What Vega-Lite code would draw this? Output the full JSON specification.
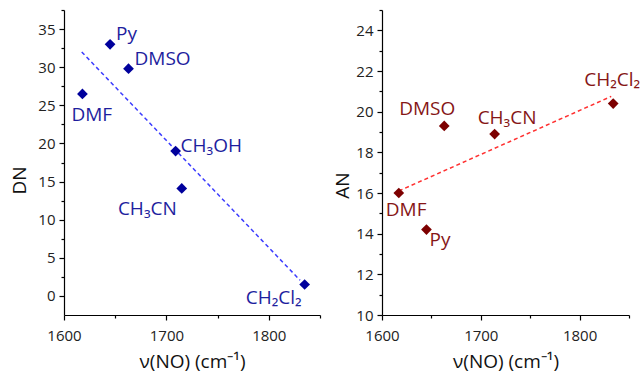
{
  "$schema": "https://vega.github.io/schema/vega-lite/v6.json",
  "background": "white",
  "padding": {"left": 10, "top": 3, "right": 0, "bottom": 0},
  "spacing": 12,
  "config": {
    "view": {"stroke": null},
    "font": "Open Sans",
    "axis": {
      "grid": false,
      "domainColor": "#000000",
      "domainWidth": 1.2,
      "tickColor": "#000000",
      "tickWidth": 1.2,
      "labelFont": "Open Sans",
      "labelFontSize": 15,
      "labelColor": "#222222",
      "labelFlush": false,
      "labelOverlap": false,
      "titleFont": "Open Sans",
      "titleFontSize": 19,
      "titleFontWeight": "normal",
      "titleColor": "#111111"
    }
  },
  "datasets": {
    "dn": [
      {"solvent": "Py", "nu": 1645, "DN": 33.0},
      {"solvent": "DMSO", "nu": 1663, "DN": 29.8},
      {"solvent": "DMF", "nu": 1618, "DN": 26.5},
      {"solvent": "CH₃OH", "nu": 1709, "DN": 19.0},
      {"solvent": "CH₃CN", "nu": 1715, "DN": 14.1},
      {"solvent": "CH₂Cl₂", "nu": 1835, "DN": 1.5}
    ],
    "dnfit": [
      {"nu": 1617.3, "DN": 32.0},
      {"nu": 1830.5, "DN": 2.06}
    ],
    "an": [
      {"solvent": "DMF", "nu": 1617, "AN": 16.0},
      {"solvent": "Py", "nu": 1645, "AN": 14.2},
      {"solvent": "DMSO", "nu": 1663, "AN": 19.3},
      {"solvent": "CH₃CN", "nu": 1714, "AN": 18.9},
      {"solvent": "CH₂Cl₂", "nu": 1834, "AN": 20.4}
    ],
    "anfit": [
      {"nu": 1617, "AN": 16.1},
      {"nu": 1832, "AN": 20.75}
    ]
  },
  "hconcat": [
    {
      "width": 256,
      "height": 305,
      "encoding": {
        "x": {
          "field": "nu", "type": "quantitative",
          "scale": {"domain": [1600, 1850], "nice": false, "zero": false},
          "axis": {
            "title": "ν(NO) (cm⁻¹)",
            "format": "d",
            "values": [1600, 1650, 1700, 1750, 1800, 1850],
            "labelExpr": "datum.value % 100 === 0 ? datum.label : ''",
            "tickSize": {"condition": {"test": "datum.value % 100 === 0", "value": 5}, "value": 3},
            "labelPadding": 8,
            "titlePadding": 9
          }
        },
        "y": {
          "field": "DN", "type": "quantitative",
          "scale": {"domain": [-2.5, 37.5], "nice": false, "zero": false},
          "axis": {
            "title": "DN",
            "values": [0, 2.5, 5, 7.5, 10, 12.5, 15, 17.5, 20, 22.5, 25, 27.5, 30, 32.5, 35, 37.5],
            "labelExpr": "datum.value % 5 === 0 ? datum.label : ''",
            "tickSize": {"condition": {"test": "datum.value % 5 === 0", "value": 5}, "value": 3},
            "labelPadding": 4,
            "titleX": -45,
            "titleY": 170,
            "titleBaseline": "middle"
          }
        }
      },
      "layer": [
        {
          "data": {"name": "dnfit"},
          "mark": {"type": "line", "color": "#3c3cff", "strokeWidth": 1.5, "strokeDash": [4, 3]}
        },
        {
          "data": {"name": "dn"},
          "mark": {"type": "point", "shape": "diamond", "filled": true, "size": 115, "color": "#00009c", "opacity": 1}
        },
        {
          "data": {"name": "dn"},
          "transform": [{"filter": "datum.solvent === 'Py' || datum.solvent === 'DMSO'"}],
          "mark": {"type": "text", "align": "left", "baseline": "middle", "dx": 6, "dy": -10, "fontSize": 19, "color": "#1e1e9e"},
          "encoding": {"text": {"field": "solvent"}}
        },
        {
          "data": {"name": "dn"},
          "transform": [{"filter": "datum.solvent === 'CH₃OH'"}],
          "mark": {"type": "text", "align": "left", "baseline": "middle", "dx": 5, "dy": -5, "fontSize": 19, "color": "#1e1e9e"},
          "encoding": {"text": {"field": "solvent"}}
        },
        {
          "data": {"name": "dn"},
          "transform": [{"filter": "datum.solvent === 'DMF'"}],
          "mark": {"type": "text", "align": "left", "baseline": "middle", "dx": -11, "dy": 21, "fontSize": 19, "color": "#1e1e9e"},
          "encoding": {"text": {"field": "solvent"}}
        },
        {
          "data": {"name": "dn"},
          "transform": [{"filter": "datum.solvent === 'CH₃CN'"}],
          "mark": {"type": "text", "align": "right", "baseline": "middle", "dx": -5, "dy": 21, "fontSize": 19, "color": "#1e1e9e"},
          "encoding": {"text": {"field": "solvent"}}
        },
        {
          "data": {"name": "dn"},
          "transform": [{"filter": "datum.solvent === 'CH₂Cl₂'"}],
          "mark": {"type": "text", "align": "right", "baseline": "middle", "dx": -3, "dy": 13, "fontSize": 19, "color": "#1e1e9e"},
          "encoding": {"text": {"field": "solvent"}}
        }
      ]
    },
    {
      "width": 247,
      "height": 305,
      "encoding": {
        "x": {
          "field": "nu", "type": "quantitative",
          "scale": {"domain": [1600, 1850], "nice": false, "zero": false},
          "axis": {
            "title": "ν(NO) (cm⁻¹)",
            "format": "d",
            "values": [1600, 1650, 1700, 1750, 1800, 1850],
            "labelExpr": "datum.value % 100 === 0 ? datum.label : ''",
            "tickSize": {"condition": {"test": "datum.value % 100 === 0", "value": 5}, "value": 3},
            "labelPadding": 8,
            "titlePadding": 9
          }
        },
        "y": {
          "field": "AN", "type": "quantitative",
          "scale": {"domain": [10, 25], "nice": false, "zero": false},
          "axis": {
            "title": "AN",
            "values": [10, 11, 12, 13, 14, 15, 16, 17, 18, 19, 20, 21, 22, 23, 24, 25],
            "labelExpr": "datum.value % 2 === 0 ? datum.label : ''",
            "tickSize": {"condition": {"test": "datum.value % 2 === 0", "value": 5}, "value": 3},
            "labelPadding": 4,
            "titleX": -40,
            "titleY": 175,
            "titleBaseline": "middle"
          }
        }
      },
      "layer": [
        {
          "data": {"name": "anfit"},
          "mark": {"type": "line", "color": "#ff3030", "strokeWidth": 1.5, "strokeDash": [4, 3]}
        },
        {
          "data": {"name": "an"},
          "mark": {"type": "point", "shape": "diamond", "filled": true, "size": 115, "color": "#7d0000", "opacity": 1}
        },
        {
          "data": {"name": "an"},
          "transform": [{"filter": "datum.solvent === 'DMSO'"}],
          "mark": {"type": "text", "align": "right", "baseline": "middle", "dx": 11, "dy": -17, "fontSize": 19, "color": "#861616"},
          "encoding": {"text": {"field": "solvent"}}
        },
        {
          "data": {"name": "an"},
          "transform": [{"filter": "datum.solvent === 'CH₃CN'"}],
          "mark": {"type": "text", "align": "left", "baseline": "middle", "dx": -17, "dy": -16, "fontSize": 19, "color": "#861616"},
          "encoding": {"text": {"field": "solvent"}}
        },
        {
          "data": {"name": "an"},
          "transform": [{"filter": "datum.solvent === 'CH₂Cl₂'"}],
          "mark": {"type": "text", "align": "left", "baseline": "middle", "dx": -29, "dy": -24, "fontSize": 19, "color": "#861616"},
          "encoding": {"text": {"field": "solvent"}}
        },
        {
          "data": {"name": "an"},
          "transform": [{"filter": "datum.solvent === 'DMF'"}],
          "mark": {"type": "text", "align": "left", "baseline": "middle", "dx": -13, "dy": 17, "fontSize": 19, "color": "#861616"},
          "encoding": {"text": {"field": "solvent"}}
        },
        {
          "data": {"name": "an"},
          "transform": [{"filter": "datum.solvent === 'Py'"}],
          "mark": {"type": "text", "align": "left", "baseline": "middle", "dx": 3, "dy": 10, "fontSize": 19, "color": "#861616"},
          "encoding": {"text": {"field": "solvent"}}
        }
      ]
    }
  ]
}
